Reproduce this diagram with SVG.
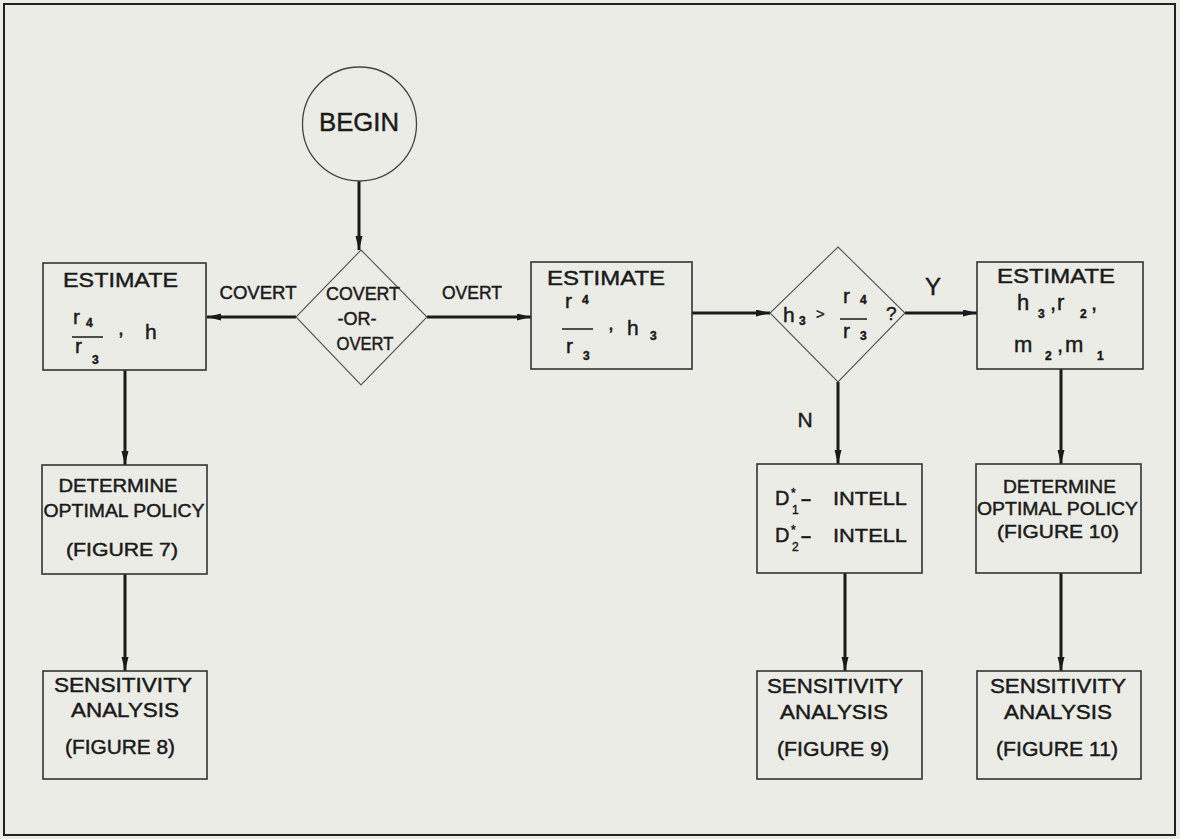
<svg xmlns="http://www.w3.org/2000/svg" width="1180" height="839" viewBox="0 0 1180 839">
<defs>
<marker id="ah" markerUnits="userSpaceOnUse" markerWidth="15" markerHeight="8" refX="14" refY="3.5" orient="auto">
<path d="M0,0 L14,3.5 L0,7 Z" fill="#1a1a1a"/>
</marker>
<style>
text{font-family:"Liberation Sans",Arial,sans-serif;fill:#1a1a1a;stroke:#1a1a1a;stroke-width:0.45}
.box{fill:none;stroke:#333;stroke-width:1.6}
.dia{fill:none;stroke:#555;stroke-width:1.1}
.edge{stroke:#1a1a1a;stroke-width:3;fill:none;marker-end:url(#ah)}
.bar{stroke:#1a1a1a;stroke-width:1.5}
.t21{font-size:21px}
.t17{font-size:18px}
.t20{font-size:20px}
.lbl{font-size:18px}
.m{font-size:21px}
.mm{font-size:22px}
.s{font-size:12px;font-weight:bold}
.c{text-anchor:middle}
</style>
</defs>
<rect x="0" y="0" width="1180" height="839" fill="#ecece7"/>
<rect x="4" y="4" width="1171" height="831" fill="none" stroke="#222" stroke-width="2"/>

<g id="connectors">
<line class="edge" x1="359" y1="181" x2="359" y2="250"/>
<line class="edge" x1="296" y1="317" x2="207" y2="317"/>
<line class="edge" x1="427" y1="317" x2="531" y2="317"/>
<line class="edge" x1="692" y1="313" x2="770" y2="313"/>
<line class="edge" x1="905" y1="313" x2="977" y2="313"/>
<line class="edge" x1="125" y1="370" x2="125" y2="465"/>
<line class="edge" x1="125" y1="574" x2="125" y2="671"/>
<line class="edge" x1="838" y1="382" x2="838" y2="464"/>
<line class="edge" x1="1061" y1="369" x2="1061" y2="464"/>
<line class="edge" x1="845" y1="573" x2="845" y2="671"/>
<line class="edge" x1="1061" y1="573" x2="1061" y2="671"/>
<text class="lbl c" x="258" y="299" textLength="77" lengthAdjust="spacingAndGlyphs">COVERT</text>
<text class="lbl c" x="472" y="299" textLength="60" lengthAdjust="spacingAndGlyphs">OVERT</text>
<text x="933" y="295" class="c" font-size="24">Y</text>
<text x="805" y="427" class="c" font-size="21">N</text>
</g>

<g id="begin">
<circle cx="359.5" cy="124" r="57" fill="none" stroke="#444" stroke-width="1.3"/>
<text x="359" y="131" class="c" font-size="26" textLength="80" lengthAdjust="spacingAndGlyphs">BEGIN</text>
</g>

<g id="covert-or-overt">
<polygon class="dia" points="361,250 427,317 361,385 296,317"/>
<text class="lbl c" x="363" y="300" textLength="74" lengthAdjust="spacingAndGlyphs">COVERT</text>
<text class="lbl c" x="357" y="325" font-size="16">-OR-</text>
<text class="lbl c" x="365" y="350" textLength="57" lengthAdjust="spacingAndGlyphs">OVERT</text>
</g>

<g id="estimate-covert">
<rect class="box" x="43" y="263" width="163" height="107"/>
<text class="t21 c" x="120.5" y="287" textLength="115" lengthAdjust="spacingAndGlyphs">ESTIMATE</text>
<text class="m" x="73" y="324">r</text><text class="s" x="86" y="327">4</text>
<line class="bar" x1="72" y1="337" x2="103" y2="337"/>
<text class="m" x="75" y="353">r</text><text class="s" x="92" y="364">3</text>
<text class="m" x="118" y="335">,</text>
<text class="m" x="145" y="339">h</text>
</g>

<g id="estimate-overt">
<rect class="box" x="531" y="262" width="161" height="107"/>
<text class="t21 c" x="606" y="285" textLength="118" lengthAdjust="spacingAndGlyphs">ESTIMATE</text>
<text class="m" x="565" y="308">r</text><text class="s" x="582" y="304">4</text>
<line class="bar" x1="562" y1="329" x2="593" y2="329"/>
<text class="m" x="566" y="353">r</text><text class="s" x="583" y="360">3</text>
<text class="m" x="608" y="330">,</text>
<text class="m" x="627" y="335">h</text><text class="s" x="650" y="340">3</text>
</g>

<g id="decision-h3">
<polygon class="dia" points="838,247 905,313 838,382 770,313"/>
<text class="m" x="783" y="322">h</text><text class="s" x="799" y="325" font-size="11">3</text>
<text x="816" y="319" font-size="15">&gt;</text>
<text class="m" x="843" y="303">r</text><text class="s" x="860" y="304" font-size="11">4</text>
<line class="bar" x1="840" y1="319" x2="867" y2="319"/>
<text class="m" x="843" y="338">r</text><text class="s" x="860" y="340" font-size="11">3</text>
<text x="886" y="320" font-size="19">?</text>
</g>

<g id="estimate-y">
<rect class="box" x="977" y="262" width="166" height="107"/>
<text class="t21 c" x="1056" y="283" textLength="118" lengthAdjust="spacingAndGlyphs">ESTIMATE</text>
<text class="mm" x="1017" y="310">h</text><text class="s" x="1038" y="318">3</text>
<text class="mm" x="1050" y="310">,</text>
<text class="mm" x="1057" y="310">r</text><text class="s" x="1080" y="318">2</text>
<text class="mm" x="1091" y="310">,</text>
<text class="mm" x="1014" y="352">m</text><text class="s" x="1045" y="360">2</text>
<text class="mm" x="1057" y="352">,</text>
<text class="mm" x="1065" y="352">m</text><text class="s" x="1097" y="360">1</text>
</g>

<g id="determine-7">
<rect class="box" x="42" y="465" width="165" height="109"/>
<text class="t17 c" x="118" y="492" textLength="119" lengthAdjust="spacingAndGlyphs">DETERMINE</text>
<text class="t17 c" x="124" y="517" textLength="161" lengthAdjust="spacingAndGlyphs">OPTIMAL POLICY</text>
<text class="t17 c" x="122" y="556" textLength="112" lengthAdjust="spacingAndGlyphs">(FIGURE 7)</text>
</g>

<g id="intell">
<rect class="box" x="757" y="464" width="165" height="109"/>
<text x="775" y="505" font-size="20">D</text><text x="791" y="497" font-size="12">*</text><text x="792" y="514" font-size="12">1</text>
<text x="801" y="505" font-size="18" font-weight="bold">–</text>
<text x="833" y="505" font-size="19" textLength="74" lengthAdjust="spacingAndGlyphs">INTELL</text>
<text x="775" y="542" font-size="20">D</text><text x="791" y="534" font-size="12">*</text><text x="792" y="551" font-size="12">2</text>
<text x="801" y="542" font-size="18" font-weight="bold">–</text>
<text x="833" y="542" font-size="19" textLength="74" lengthAdjust="spacingAndGlyphs">INTELL</text>
</g>

<g id="determine-10">
<rect class="box" x="976" y="464" width="165" height="109"/>
<text class="t17 c" x="1059.5" y="493" textLength="113" lengthAdjust="spacingAndGlyphs">DETERMINE</text>
<text class="t17 c" x="1057.5" y="515" textLength="161" lengthAdjust="spacingAndGlyphs">OPTIMAL POLICY</text>
<text class="t17 c" x="1058" y="538" textLength="122" lengthAdjust="spacingAndGlyphs">(FIGURE 10)</text>
</g>

<g id="sensitivity-8">
<rect class="box" x="43" y="671" width="164" height="108"/>
<text class="t20 c" x="123" y="692" textLength="138" lengthAdjust="spacingAndGlyphs">SENSITIVITY</text>
<text class="t20 c" x="125" y="717" textLength="108" lengthAdjust="spacingAndGlyphs">ANALYSIS</text>
<text class="t20 c" x="120" y="754" textLength="110" lengthAdjust="spacingAndGlyphs">(FIGURE 8)</text>
</g>

<g id="sensitivity-9">
<rect class="box" x="757" y="671" width="165" height="108"/>
<text class="t20 c" x="835" y="693" textLength="136" lengthAdjust="spacingAndGlyphs">SENSITIVITY</text>
<text class="t20 c" x="834" y="719" textLength="108" lengthAdjust="spacingAndGlyphs">ANALYSIS</text>
<text class="t20 c" x="833" y="756" textLength="112" lengthAdjust="spacingAndGlyphs">(FIGURE 9)</text>
</g>

<g id="sensitivity-11">
<rect class="box" x="977" y="671" width="164" height="108"/>
<text class="t20 c" x="1058" y="693" textLength="136" lengthAdjust="spacingAndGlyphs">SENSITIVITY</text>
<text class="t20 c" x="1058" y="719" textLength="108" lengthAdjust="spacingAndGlyphs">ANALYSIS</text>
<text class="t20 c" x="1057" y="756" textLength="122" lengthAdjust="spacingAndGlyphs">(FIGURE 11)</text>
</g>
</svg>
